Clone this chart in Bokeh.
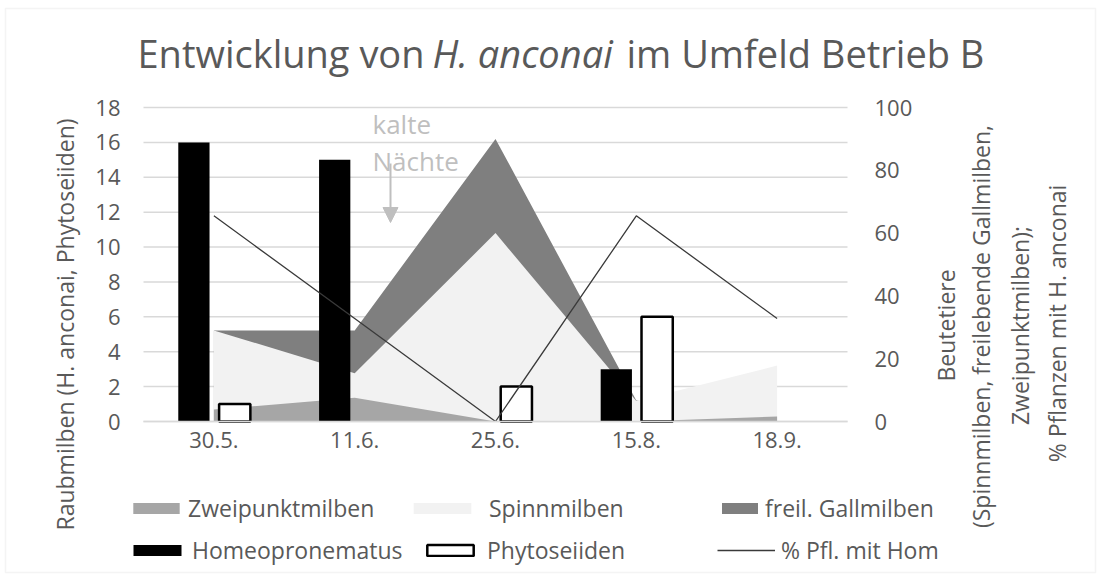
from math import pi
from bokeh.plotting import figure
from bokeh.models import (ColumnDataSource, Range1d, LinearAxis, FixedTicker,
                          Label, Legend, LegendItem, Arrow, NormalHead, CDSView, BooleanFilter,
                          BoxAnnotation)
from bokeh.transform import dodge
from bokeh.embed import file_html
from bokeh.resources import INLINE

# ---------------- data ----------------
dates = ["30.5.", "11.6.", "25.6.", "15.8.", "18.9."]
homeopronematus = [16, 15, 0, 3, 0]
phytoseiiden = [1, 0, 2, 6, 0]
zweipunktmilben = [3.8, 7.6, 0, 0, 1.6]
spinnmilben = [29, 15.4, 60, 6.5, 17.8]
gallmilben = [29, 29, 90, 6.7, 0]
pfl_mit_hom = [65.5, 32.8, 0, 65.5, 32.8]
left_ticks = [0, 2, 4, 6, 8, 10, 12, 14, 16, 18]
right_ticks = [0, 20, 40, 60, 80, 100]

# ---------------- layout plan (canvas px) ----------------
W, H = 1098, 575
PL, PR, PT, PB = 143, 847, 107, 421      # plot area edges
NCAT = len(dates)
LMAX, RMAX = 18, 100
SX = (PR - PL) / NCAT
SYL = (PB - PT) / LMAX
SYR = (PB - PT) / RMAX
FONT = "Open Sans"
TXT = "#595959"
GRID = "#d9d9d9"

xc = [i + 0.5 for i in range(NCAT)]       # category centres
src = ColumnDataSource(dict(xc=xc, date=dates, homeo=homeopronematus, phyto=phytoseiiden,
                            zwei=zweipunktmilben, spinn=spinnmilben, gall=gallmilben,
                            pct=pfl_mit_hom))

p = figure(width=W, height=H,
           x_range=Range1d(-PL / SX, (W - PL) / SX),
           y_range=Range1d(-(H - PB) / SYL, PB / SYL),
           x_axis_location=None, y_axis_location=None,
           output_backend="svg", toolbar_location=None, title=None,
           min_border=0, min_border_left=0, min_border_right=0,
           min_border_top=0, min_border_bottom=0)
p.extra_y_ranges = {"right": Range1d(-(H - PB) / SYR, PB / SYR)}
p.outline_line_color = None
p.background_fill_color = "white"
p.border_fill_color = "white"
p.grid.visible = False

def X(px):
    return (px - PL) / SX

def Y(py):
    return (PB - py) / SYL

# chart border
p.add_layout(BoxAnnotation(left=X(5), right=X(1095), top=Y(8), bottom=Y(572),
                           fill_alpha=0, line_color=GRID, line_width=1.5))

# horizontal grid lines on the left scale, limited to the plot area
p.segment(x0=0, x1=NCAT, y0=left_ticks, y1=left_ticks, line_color=GRID, line_width=1.5)

# x axis
xaxis = LinearAxis(fixed_location=0, bounds=(0, NCAT), ticker=FixedTicker(ticks=xc),
                   major_label_overrides={c: d for c, d in zip(xc, dates)})
xaxis.axis_line_color = GRID
xaxis.axis_line_width = 1.5
xaxis.major_tick_line_color = None
xaxis.major_tick_out = 0
xaxis.minor_tick_line_color = None
xaxis.major_label_text_font = FONT
xaxis.major_label_text_font_size = "22px"
xaxis.major_label_text_color = TXT
xaxis.major_label_standoff = 10
p.add_layout(xaxis, "below")

# left axis
laxis = LinearAxis(fixed_location=0, bounds=(0, LMAX), ticker=FixedTicker(ticks=left_ticks))
laxis.axis_line_color = None
laxis.major_tick_line_color = None
laxis.major_tick_out = 0
laxis.minor_tick_line_color = None
laxis.major_label_text_font = FONT
laxis.major_label_text_font_size = "22px"
laxis.major_label_text_color = TXT
laxis.major_label_standoff = 23
p.add_layout(laxis, "left")

# right axis
raxis = LinearAxis(y_range_name="right", fixed_location=NCAT, bounds=(0, RMAX),
                   ticker=FixedTicker(ticks=right_ticks))
raxis.axis_line_color = None
raxis.major_tick_line_color = None
raxis.major_tick_out = 0
raxis.minor_tick_line_color = None
raxis.major_label_text_font = FONT
raxis.major_label_text_font_size = "22px"
raxis.major_label_text_color = TXT
raxis.major_label_standoff = 27
p.add_layout(raxis, "right")

# areas (overlapping, not stacked)
r_gall = p.varea(x="xc", y1=0, y2="gall", source=src, y_range_name="right",
                 fill_color="#7f7f7f")
r_spinn = p.varea(x="xc", y1=0, y2="spinn", source=src, y_range_name="right",
                  fill_color="#f2f2f2")
r_zwei = p.varea(x="xc", y1=0, y2="zwei", source=src, y_range_name="right",
                 fill_color="#a6a6a6")

# bars
hv = CDSView(filter=BooleanFilter([v > 0 for v in homeopronematus]))
pv = CDSView(filter=BooleanFilter([v > 0 for v in phytoseiiden]))
r_homeo = p.vbar(x=dodge("xc", -0.142), top="homeo", width=0.222,
                 source=src, view=hv, fill_color="black", line_color=None)
r_phyto = p.vbar(x=dodge("xc", 0.148), top="phyto", width=0.222,
                 source=src, view=pv, fill_color="white", line_color="black",
                 line_width=2.5)

# line
r_line = p.line(x="xc", y="pct", source=src, y_range_name="right",
                line_color="#3a3a3a", line_width=1.3)

# legends (one per item, placed like the original grid)
def add_leg(rend, label, sw_left, row_center, gw=58, standoff=5):
    h = 31
    leg = Legend(items=[LegendItem(label=label, renderers=[rend])],
                 location=(sw_left, H - (row_center + h / 2)),
                 orientation="horizontal", padding=0, margin=0, spacing=0,
                 border_line_color=None, background_fill_alpha=0,
                 glyph_width=gw, glyph_height=14, label_standoff=standoff,
                 label_text_font=FONT, label_text_font_size="23px",
                 label_text_color=TXT, label_height=14)
    p.add_layout(leg)

add_leg(r_zwei, "Zweipunktmilben", 127, 508, 58, 3)
add_leg(r_spinn, "Spinnmilben", 406, 508, 72, 11)
add_leg(r_gall, "freil. Gallmilben", 717, 508, 45, 3)
add_leg(r_homeo, "Homeopronematus", 127, 550, 60, 5)
add_leg(r_phyto, "Phytoseiiden", 421, 550, 58, 8)
add_leg(r_line, "% Pfl. mit Hom", 717, 550, 58, 6)

# title (mixed italic)
tkw = dict(text_font=FONT, text_font_size="38px", text_color=TXT,
           text_baseline="middle", text_align="left")
p.add_layout(Label(x=X(137), y=Y(52), text="Entwicklung von", **tkw))
p.add_layout(Label(x=X(432), y=Y(52), text="H. anconai", text_font_style="italic", **tkw))
p.add_layout(Label(x=X(626), y=Y(52), text="im Umfeld Betrieb B", **tkw))

# axis titles
akw = dict(text_font=FONT, text_font_size="23px", text_color=TXT, angle=pi / 2,
           text_align="center", text_baseline="middle")
p.add_layout(Label(x=X(64), y=Y(324), text="Raubmilben (H. anconai, Phytoseiiden)", **akw))
p.add_layout(Label(x=X(945), y=Y(325), text="Beutetiere", **akw))
p.add_layout(Label(x=X(980), y=Y(326), text="(Spinnmilben, freilebende Gallmilben,", **akw))
p.add_layout(Label(x=X(1019), y=Y(325), text="Zweipunktmilben);", **akw))
p.add_layout(Label(x=X(1056), y=Y(323), text="% Pflanzen mit H. anconai", **akw))

# annotation "kalte Nächte"
nkw = dict(text_font=FONT, text_font_size="26px", text_color="#bfbfbf",
           text_baseline="middle", text_align="left")
p.add_layout(Label(x=X(372), y=Y(123), text="kalte", **nkw))
p.add_layout(Label(x=X(372), y=Y(160), text="Nächte", **nkw))
p.add_layout(Arrow(x_start=X(390), y_start=Y(163), x_end=X(390), y_end=Y(222),
                   line_color="#bfbfbf", line_width=2,
                   end=NormalHead(size=15, fill_color="#bfbfbf", line_color="#bfbfbf")))

open("out.html", "w").write(file_html(p, INLINE))
